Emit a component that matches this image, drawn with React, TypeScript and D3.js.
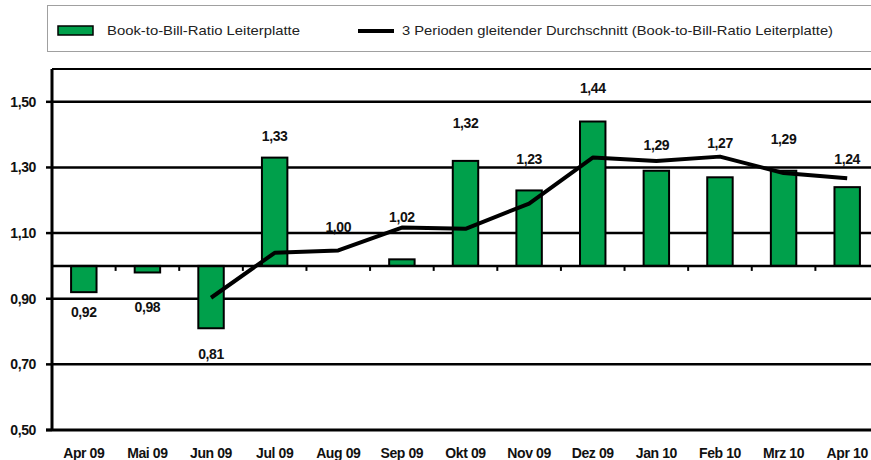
import React from "react";
import * as d3 from "d3";

const categories = ["Apr 09", "Mai 09", "Jun 09", "Jul 09", "Aug 09", "Sep 09", "Okt 09", "Nov 09", "Dez 09", "Jan 10", "Feb 10", "Mrz 10", "Apr 10"];
const ratioValues = [0.92, 0.98, 0.81, 1.33, 1.0, 1.02, 1.32, 1.23, 1.44, 1.29, 1.27, 1.29, 1.24];
const movingAvg: (number | null)[] = [null, null, 0.903, 1.04, 1.047, 1.117, 1.113, 1.19, 1.33, 1.32, 1.333, 1.283, 1.267];
const yTicks = [0.5, 0.7, 0.9, 1.1, 1.3, 1.5];
// label placement offsets (value units, relative to bar value)
const labelShift = [-0.06, -0.105, -0.078, 0.066, 0.119, 0.129, 0.115, 0.096, 0.102, 0.079, 0.104, 0.097, 0.086];
const legendLabels = ["Book-to-Bill-Ratio Leiterplatte", "3 Perioden gleitender Durchschnitt (Book-to-Bill-Ratio Leiterplatte)"];

const W = 871;
const H = 460;
const plotLeft = 52;
const plotRight = 879;
const plotTop = 69;
const plotBottom = 430;
const GREEN = "#00a04b";
const FONT = "'Liberation Sans', Arial, sans-serif";

export default function App() {
  const x = d3.scaleBand<string>().domain(categories).range([plotLeft, plotRight]).paddingInner(0.6).paddingOuter(0.3);
  const y = d3.scaleLinear().domain([0.5, 1.6]).range([plotBottom, plotTop]);
  const fmt = (v: number) => d3.format(".2f")(v).replace(".", ",");
  const cx = (c: string) => (x(c) as number) + x.bandwidth() / 2;
  const step = x.step();

  const line = d3
    .line<number | null>()
    .defined((d) => d !== null)
    .x((_, i) => cx(categories[i]))
    .y((d) => y(d as number));

  const lbl = { fontSize: 14, fontWeight: "bold" as const, fill: "#111", letterSpacing: -0.4 };

  return (
    <svg width={W} height={H} style={{ position: "absolute", left: 0, top: 0, background: "#fff" }} fontFamily={FONT}>
      {/* legend */}
      <g>
        <rect x={47.5} y={5.5} width={840} height={46} fill="#fff" stroke="#a0a0a0" strokeWidth={1} />
        <rect x={58} y={26} width={35} height={9} fill={GREEN} stroke="#000" strokeWidth={1.5} />
        <text x={107} y={35} fontSize={13} fill="#222" textLength={193} lengthAdjust="spacingAndGlyphs">{legendLabels[0]}</text>
        <line x1={358} x2={394} y1={31} y2={31} stroke="#000" strokeWidth={4} />
        <text x={402} y={35} fontSize={13} fill="#222" textLength={431} lengthAdjust="spacingAndGlyphs">{legendLabels[1]}</text>
      </g>

      {/* gridlines */}
      {yTicks.filter((t) => t > 0.5).map((t) => (
        <line key={"g" + t} x1={plotLeft} x2={plotRight} y1={y(t)} y2={y(t)} stroke="#000" strokeWidth={2.5} />
      ))}
      {/* top border */}
      <line x1={plotLeft} x2={plotRight} y1={plotTop} y2={plotTop} stroke="#000" strokeWidth={2} />

      {/* bars */}
      {ratioValues.map((v, i) => {
        const c = categories[i];
        const y0 = y(1);
        const y1 = y(v);
        return (
          <rect key={"b" + c} x={x(c)} y={Math.min(y0, y1)} width={x.bandwidth()} height={Math.abs(y1 - y0)} fill={GREEN} stroke="#000" strokeWidth={2} />
        );
      })}

      {/* category axis at 1.00 */}
      <line x1={plotLeft} x2={plotRight} y1={y(1)} y2={y(1)} stroke="#000" strokeWidth={2.5} />
      {categories.slice(1).map((c) => {
        const bx = (x(c) as number) - step * 0.3;
        return <line key={"t" + c} x1={bx} x2={bx} y1={y(1)} y2={y(1) + 5} stroke="#000" strokeWidth={2} />;
      })}

      {/* moving average line */}
      <path d={line(movingAvg) || ""} fill="none" stroke="#000" strokeWidth={4} strokeLinejoin="round" />

      {/* left axis and bottom */}
      <line x1={plotLeft} x2={plotLeft} y1={plotTop} y2={plotBottom} stroke="#000" strokeWidth={3} />
      <line x1={plotLeft - 6} x2={plotRight} y1={plotBottom} y2={plotBottom} stroke="#000" strokeWidth={3} />
      {yTicks.map((t) => (
        <g key={"y" + t}>
          <line x1={plotLeft - 6} x2={plotLeft} y1={y(t)} y2={y(t)} stroke="#000" strokeWidth={2.5} />
          <text x={36} y={y(t)} dy="0.35em" textAnchor="end" {...lbl}>{fmt(t)}</text>
        </g>
      ))}

      {/* category labels */}
      {categories.map((c) => (
        <text key={"c" + c} x={cx(c)} y={453} dy="0.35em" textAnchor="middle" {...lbl}>{c}</text>
      ))}

      {/* value labels */}
      {ratioValues.map((v, i) => (
        <text key={"v" + i} x={cx(categories[i])} y={y(v + labelShift[i])} dy="0.35em" textAnchor="middle" {...lbl}>{fmt(v)}</text>
      ))}
    </svg>
  );
}
